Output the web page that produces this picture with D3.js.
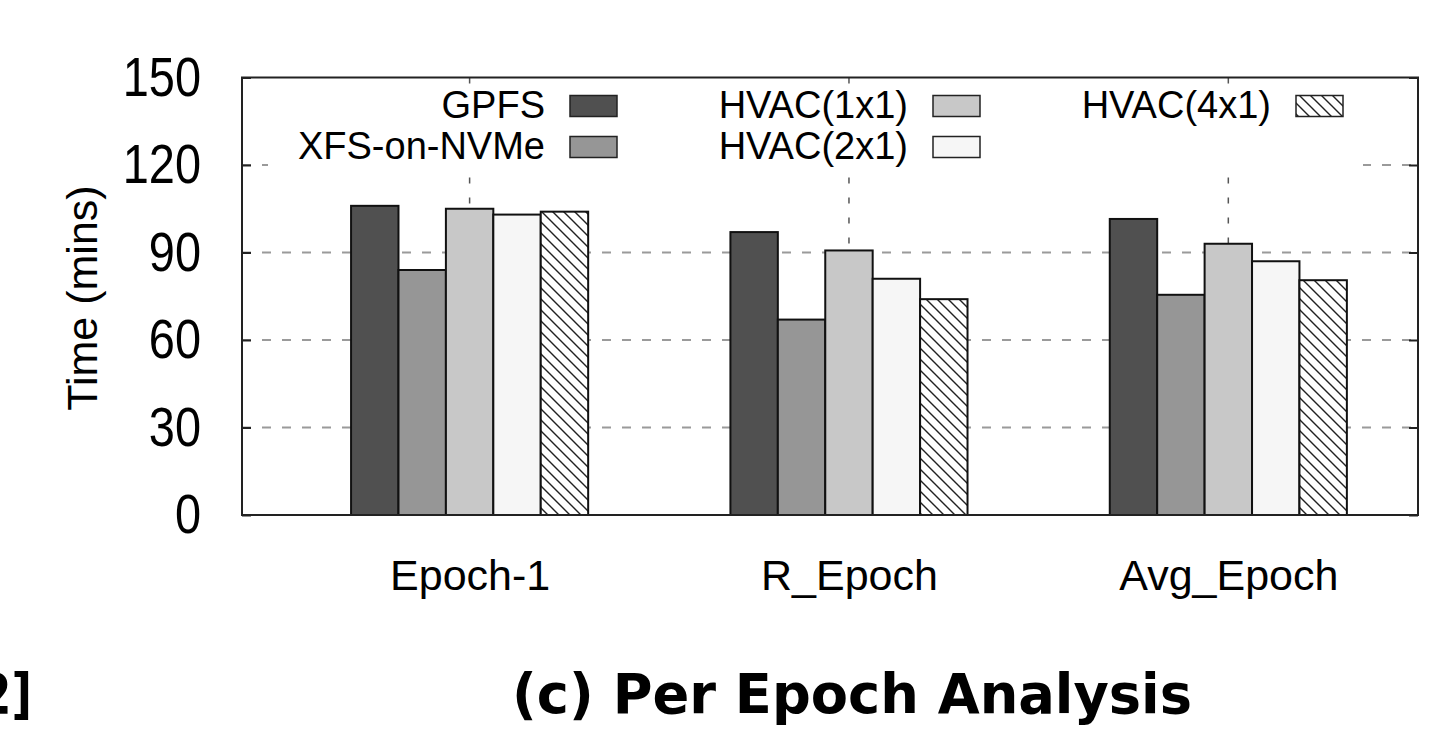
<!DOCTYPE html>
<html>
<head>
<meta charset="utf-8">
<script src="https://cdn.jsdelivr.net/npm/d3@7"></script>
<style>
  body { margin: 0; background: #fff; }
  svg { display: block; }
  text { font-family: "Liberation Sans", Arial, Helvetica, sans-serif; fill: #000; }
</style>
</head>
<body>
<svg id="chartSVG" width="1449" height="742"></svg>
<script>
// categories on the x axis
var epochs = ['Epoch-1', 'R_Epoch', 'Avg_Epoch'];
// series, in legend/bar order
var seriesNames = ['GPFS', 'XFS-on-NVMe', 'HVAC(1x1)', 'HVAC(2x1)', 'HVAC(4x1)'];
var seriesFill = ['#505050', '#969696', '#c8c8c8', '#f6f6f6', 'url(#hatch)'];
// time in minutes, one value per epoch
var gpfs = [106, 97, 101.5];
var xfsNvme = [84, 67, 75.5];
var hvac1x1 = [105, 90.7, 93];
var hvac2x1 = [103, 81, 87];
var hvac4x1 = [104, 74, 80.5];
var yTicks = [0, 30, 60, 90, 120, 150];

var seriesValues = [gpfs, xfsNvme, hvac1x1, hvac2x1, hvac4x1];

var svg = d3.select('#chartSVG');
var plotL = 242, plotR = 1418, plotT = 77.5, plotB = 515;
var barW = 0.125;

var x = d3.scaleLinear().domain([-0.6, 2.5]).range([plotL, plotR]);
var y = d3.scaleLinear().domain([0, 150]).range([plotB, plotT]);

// hatch pattern for HVAC(4x1)
var defs = svg.append('defs');
var pat = defs.append('pattern')
  .attr('id', 'hatch')
  .attr('patternUnits', 'userSpaceOnUse')
  .attr('width', 11).attr('height', 11);
pat.append('rect').attr('width', 11).attr('height', 11).attr('fill', '#fff');
pat.append('path')
  .attr('d', 'M0,0 L11,11 M-2,9 L2,13 M9,-2 L13,2')
  .attr('stroke', '#222').attr('stroke-width', 1.4);

// horizontal grid
svg.append('g').selectAll('line')
  .data(yTicks.slice(1, -1))
  .enter().append('line')
  .attr('x1', plotL).attr('x2', plotR)
  .attr('y1', function(d) { return y(d); })
  .attr('y2', function(d) { return y(d); })
  .attr('stroke', '#9a9a9a').attr('stroke-width', 2)
  .attr('stroke-dasharray', '9,11');

// vertical grid at the groups
svg.append('g').selectAll('line')
  .data(d3.range(epochs.length))
  .enter().append('line')
  .attr('x1', function(d) { return x(d); })
  .attr('x2', function(d) { return x(d); })
  .attr('y1', plotT).attr('y2', plotB)
  .attr('stroke', '#555').attr('stroke-width', 1.5)
  .attr('stroke-dasharray', '6,14');

// legend (opaque box hides grid)
var legend = svg.append('g');
legend.append('rect')
  .attr('x', 268).attr('y', 86)
  .attr('width', 1095).attr('height', 81)
  .attr('fill', '#fff');

var colX = [617, 980, 1343];
var rowY = [106, 147];
var legItems = legend.selectAll('.leg')
  .data(seriesNames)
  .enter().append('g')
  .attr('class', 'leg')
  .attr('transform', function(d, i) {
    return 'translate(' + colX[Math.floor(i / 2)] + ',' + rowY[i % 2] + ')';
  });

legItems.append('rect')
  .attr('x', -47).attr('y', -10.5)
  .attr('width', 47).attr('height', 21)
  .attr('fill', function(d, i) { return seriesFill[i]; })
  .attr('stroke', '#222').attr('stroke-width', 1.5);

legItems.append('text')
  .attr('x', -72).attr('y', 12)
  .attr('text-anchor', 'end')
  .style('font-size', '38px')
  .text(function(d) { return d; });

// bars
var groups = svg.append('g').selectAll('.series')
  .data(seriesValues)
  .enter().append('g')
  .attr('class', 'series')
  .attr('fill', function(d, i) { return seriesFill[i]; });

groups.each(function(vals, si) {
  d3.select(this).selectAll('rect')
    .data(vals)
    .enter().append('rect')
    .attr('x', function(d, ci) { return x(ci + (si - 2.5) * barW); })
    .attr('width', x(barW) - x(0))
    .attr('y', function(d) { return y(d); })
    .attr('height', function(d) { return y(0) - y(d); })
    .attr('stroke', '#111').attr('stroke-width', 2);
});

// y axis with inward ticks, mirrored on the right
var yAxis = svg.append('g')
  .attr('transform', 'translate(' + plotL + ',0)')
  .call(d3.axisLeft(y).tickValues(yTicks).tickSizeInner(-9).tickSizeOuter(0).tickPadding(41));
yAxis.select('.domain').remove();
yAxis.selectAll('line').attr('stroke', '#222').attr('stroke-width', 2);
// taller, narrower digits like the original
yAxis.selectAll('text')
  .style('font-size', '51px').attr('font-family', null)
  .attr('x', -41 / 0.92)
  .attr('transform', 'scale(0.92,1.1)');

var yAxisR = svg.append('g')
  .attr('transform', 'translate(' + plotR + ',0)')
  .call(d3.axisRight(y).tickValues(yTicks).tickSizeInner(-9).tickSizeOuter(0).tickFormat(''));
yAxisR.select('.domain').remove();
yAxisR.selectAll('line').attr('stroke', '#222').attr('stroke-width', 2);

// x axis labels
var xAxis = svg.append('g')
  .attr('transform', 'translate(0,' + plotB + ')')
  .call(d3.axisBottom(x).tickValues([0, 1, 2]).tickSize(0).tickPadding(44)
    .tickFormat(function(d) { return epochs[d]; }));
xAxis.select('.domain').remove();
xAxis.selectAll('text').style('font-size', '43px').attr('font-family', null);

// frame
svg.append('rect')
  .attr('x', plotL).attr('y', plotT)
  .attr('width', plotR - plotL).attr('height', plotB - plotT)
  .attr('fill', 'none').attr('stroke', '#222').attr('stroke-width', 2);

// y title
svg.append('text')
  .attr('transform', 'translate(97,298) rotate(-90)')
  .attr('text-anchor', 'middle')
  .style('font-size', '43px')
  .text('Time (mins)');

// captions under the chart
svg.append('text')
  .attr('x', 512).attr('y', 713)
  .attr('textLength', 680).attr('lengthAdjust', 'spacingAndGlyphs')
  .style('font-family', '"DejaVu Sans", sans-serif')
  .style('font-weight', 'bold')
  .style('font-size', '56px')
  .text('(c) Per Epoch Analysis');

svg.append('text')
  .attr('transform', 'translate(32,713) scale(0.8,1)')
  .attr('text-anchor', 'end')
  .style('font-family', '"DejaVu Sans", sans-serif')
  .style('font-weight', 'bold')
  .style('font-size', '56px')
  .text('2]');
</script>
</body>
</html>
